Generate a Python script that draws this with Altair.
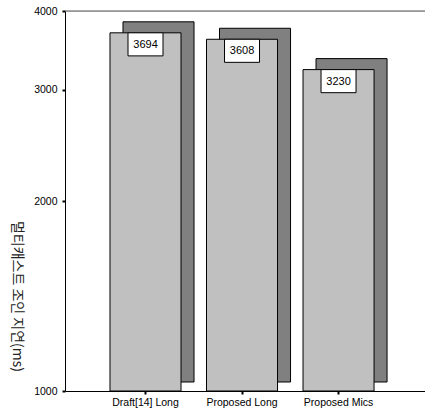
import altair as alt
import pandas as pd

categories = ["Draft[14] Long", "Proposed Long", "Proposed Mics"]
values = [3694, 3608, 3230]
y_ticks = [1000, 2000, 3000, 4000]
y_title = "멀티캐스트 조인 지연(ms)"

df = pd.DataFrame({"cat": categories, "value": values})

W, H = 360, 380

x = alt.X("cat:N", sort=categories, title=None,
          scale=alt.Scale(paddingInner=0.264, paddingOuter=0.497, align=0.469),
          axis=alt.Axis(labelAngle=0, labelFont="Liberation Sans", labelFontSize=10.5,
                        labelColor="#000", labelPadding=3, tickSize=3, tickWidth=2,
                        tickColor="#000", domainColor="#000", domainWidth=1))
yscale = alt.Scale(type="log", domain=[1000, 4000], nice=False)
y = alt.Y("value:Q", scale=yscale, title=y_title,
          axis=alt.Axis(values=y_ticks, format="d", grid=False,
                        labelFont="Liberation Sans", labelFontSize=10.5, labelColor="#000",
                        labelPadding=5, tickSize=3, tickWidth=2, tickColor="#000",
                        domainColor="#000", domainWidth=1,
                        titleFont="Noto Sans CJK KR", titleFontSize=14, titleFontWeight="normal",
                        titleColor="#222", titleAngle=90, titleAlign="center",
                        titleBaseline="middle", titleX=-49, titleY=285))

base = alt.Chart(df)

shadow = base.mark_bar(color="#808080", stroke="#000", strokeWidth=1,
                       xOffset=13, yOffset=-11, y2Offset=-9).encode(
    x=x, y=y, y2=alt.datum(y_ticks[0]))

front = base.mark_bar(color="#c0c0c0", stroke="#000", strokeWidth=1).encode(
    x=x, y=y, y2=alt.datum(y_ticks[0]))

box = base.transform_calculate(lo="datum.value / 1.0878").mark_bar(
    color="#ffffff", stroke="#000", strokeWidth=1, width=35).encode(
    x=x, y=alt.Y("value:Q", scale=yscale), y2="lo:Q")

text = base.mark_text(font="Liberation Sans", fontSize=11, color="#000",
                      baseline="middle", dy=12).encode(
    x=x, y=alt.Y("value:Q", scale=yscale), text=alt.Text("value:Q", format="d"))

top_line = alt.Chart(pd.DataFrame({"v": [y_ticks[-1]]})).mark_rule(
    color="#555", strokeWidth=1).encode(
    y=alt.Y("v:Q", scale=yscale), x=alt.value(0), x2=alt.value(W))

chart = alt.layer(shadow, front, box, text, top_line).properties(
    width=W, height=H,
    autosize=alt.AutoSizeParams(type="none"),
    padding={"left": 65, "top": 11, "right": 0, "bottom": 24},
).configure_view(stroke=None).configure(background="#ffffff")

chart.save("out.html", embed_options={"renderer": "svg", "actions": False})
